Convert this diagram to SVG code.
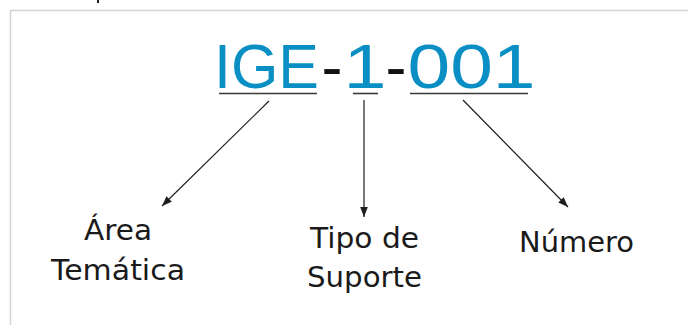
<svg xmlns="http://www.w3.org/2000/svg" width="688" height="325" viewBox="0 0 688 325">
  <style>
    .frame { stroke: #d4d4d4; stroke-width: 1.5; fill: none; }
    .code { font-family: "Liberation Sans", Arial, sans-serif; font-size: 63px; fill: #0a8fc4; }
    .dash { font-family: "Liberation Sans", Arial, sans-serif; font-size: 63px; fill: #111111; }
    .uline { stroke: #3a3a3a; stroke-width: 1.6; }
    .label { font-family: "DejaVu Sans", Verdana, sans-serif; font-size: 29px; fill: #1a1a1a; }
    .conn { stroke: #1e1e1e; stroke-width: 1.2; fill: none; marker-end: url(#arrow); }
  </style>
  <defs>
    <marker id="arrow" viewBox="0 0 10 10" refX="10" refY="5" markerWidth="10" markerHeight="10" markerUnits="userSpaceOnUse" orient="auto">
      <path d="M0,1.2 L10,5 L0,8.8 Z" fill="#1e1e1e"/>
    </marker>
  </defs>
  <rect width="688" height="325" fill="#ffffff"/>
  <path class="frame" d="M10.5,325 V10.5 H688"/>
  <rect x="97" y="0" width="2" height="3" fill="#222"/>

  <g id="code">
    <text class="code" x="214" y="88" textLength="105" lengthAdjust="spacingAndGlyphs">IGE</text>
    <text class="dash" x="321.5" y="88">-</text>
    <text class="code" x="343.5" y="88" textLength="43" lengthAdjust="spacingAndGlyphs">1</text>
    <text class="dash" x="385.5" y="88">-</text>
    <text class="code" x="407.5" y="88" textLength="128" lengthAdjust="spacingAndGlyphs">001</text>
    <line class="uline" x1="219" y1="93.5" x2="317" y2="93.5"/>
    <line class="uline" x1="353" y1="93.5" x2="378" y2="93.5"/>
    <line class="uline" x1="410" y1="93.5" x2="528" y2="93.5"/>
  </g>

  <g id="connectors">
    <line class="conn" x1="269" y1="101" x2="162" y2="206"/>
    <line class="conn" x1="364" y1="100" x2="364" y2="217"/>
    <line class="conn" x1="463" y1="100" x2="568" y2="207"/>
  </g>

  <g id="area-tematica">
    <text class="label" x="84" y="240" textLength="68" lengthAdjust="spacingAndGlyphs">Área</text>
    <text class="label" x="51" y="280" textLength="134" lengthAdjust="spacingAndGlyphs">Temática</text>
  </g>
  <g id="tipo-de-suporte">
    <text class="label" x="310" y="248" textLength="109" lengthAdjust="spacingAndGlyphs">Tipo de</text>
    <text class="label" x="307" y="287" textLength="115" lengthAdjust="spacingAndGlyphs">Suporte</text>
  </g>
  <g id="numero">
    <text class="label" x="519" y="252" textLength="115" lengthAdjust="spacingAndGlyphs">Número</text>
  </g>
</svg>
